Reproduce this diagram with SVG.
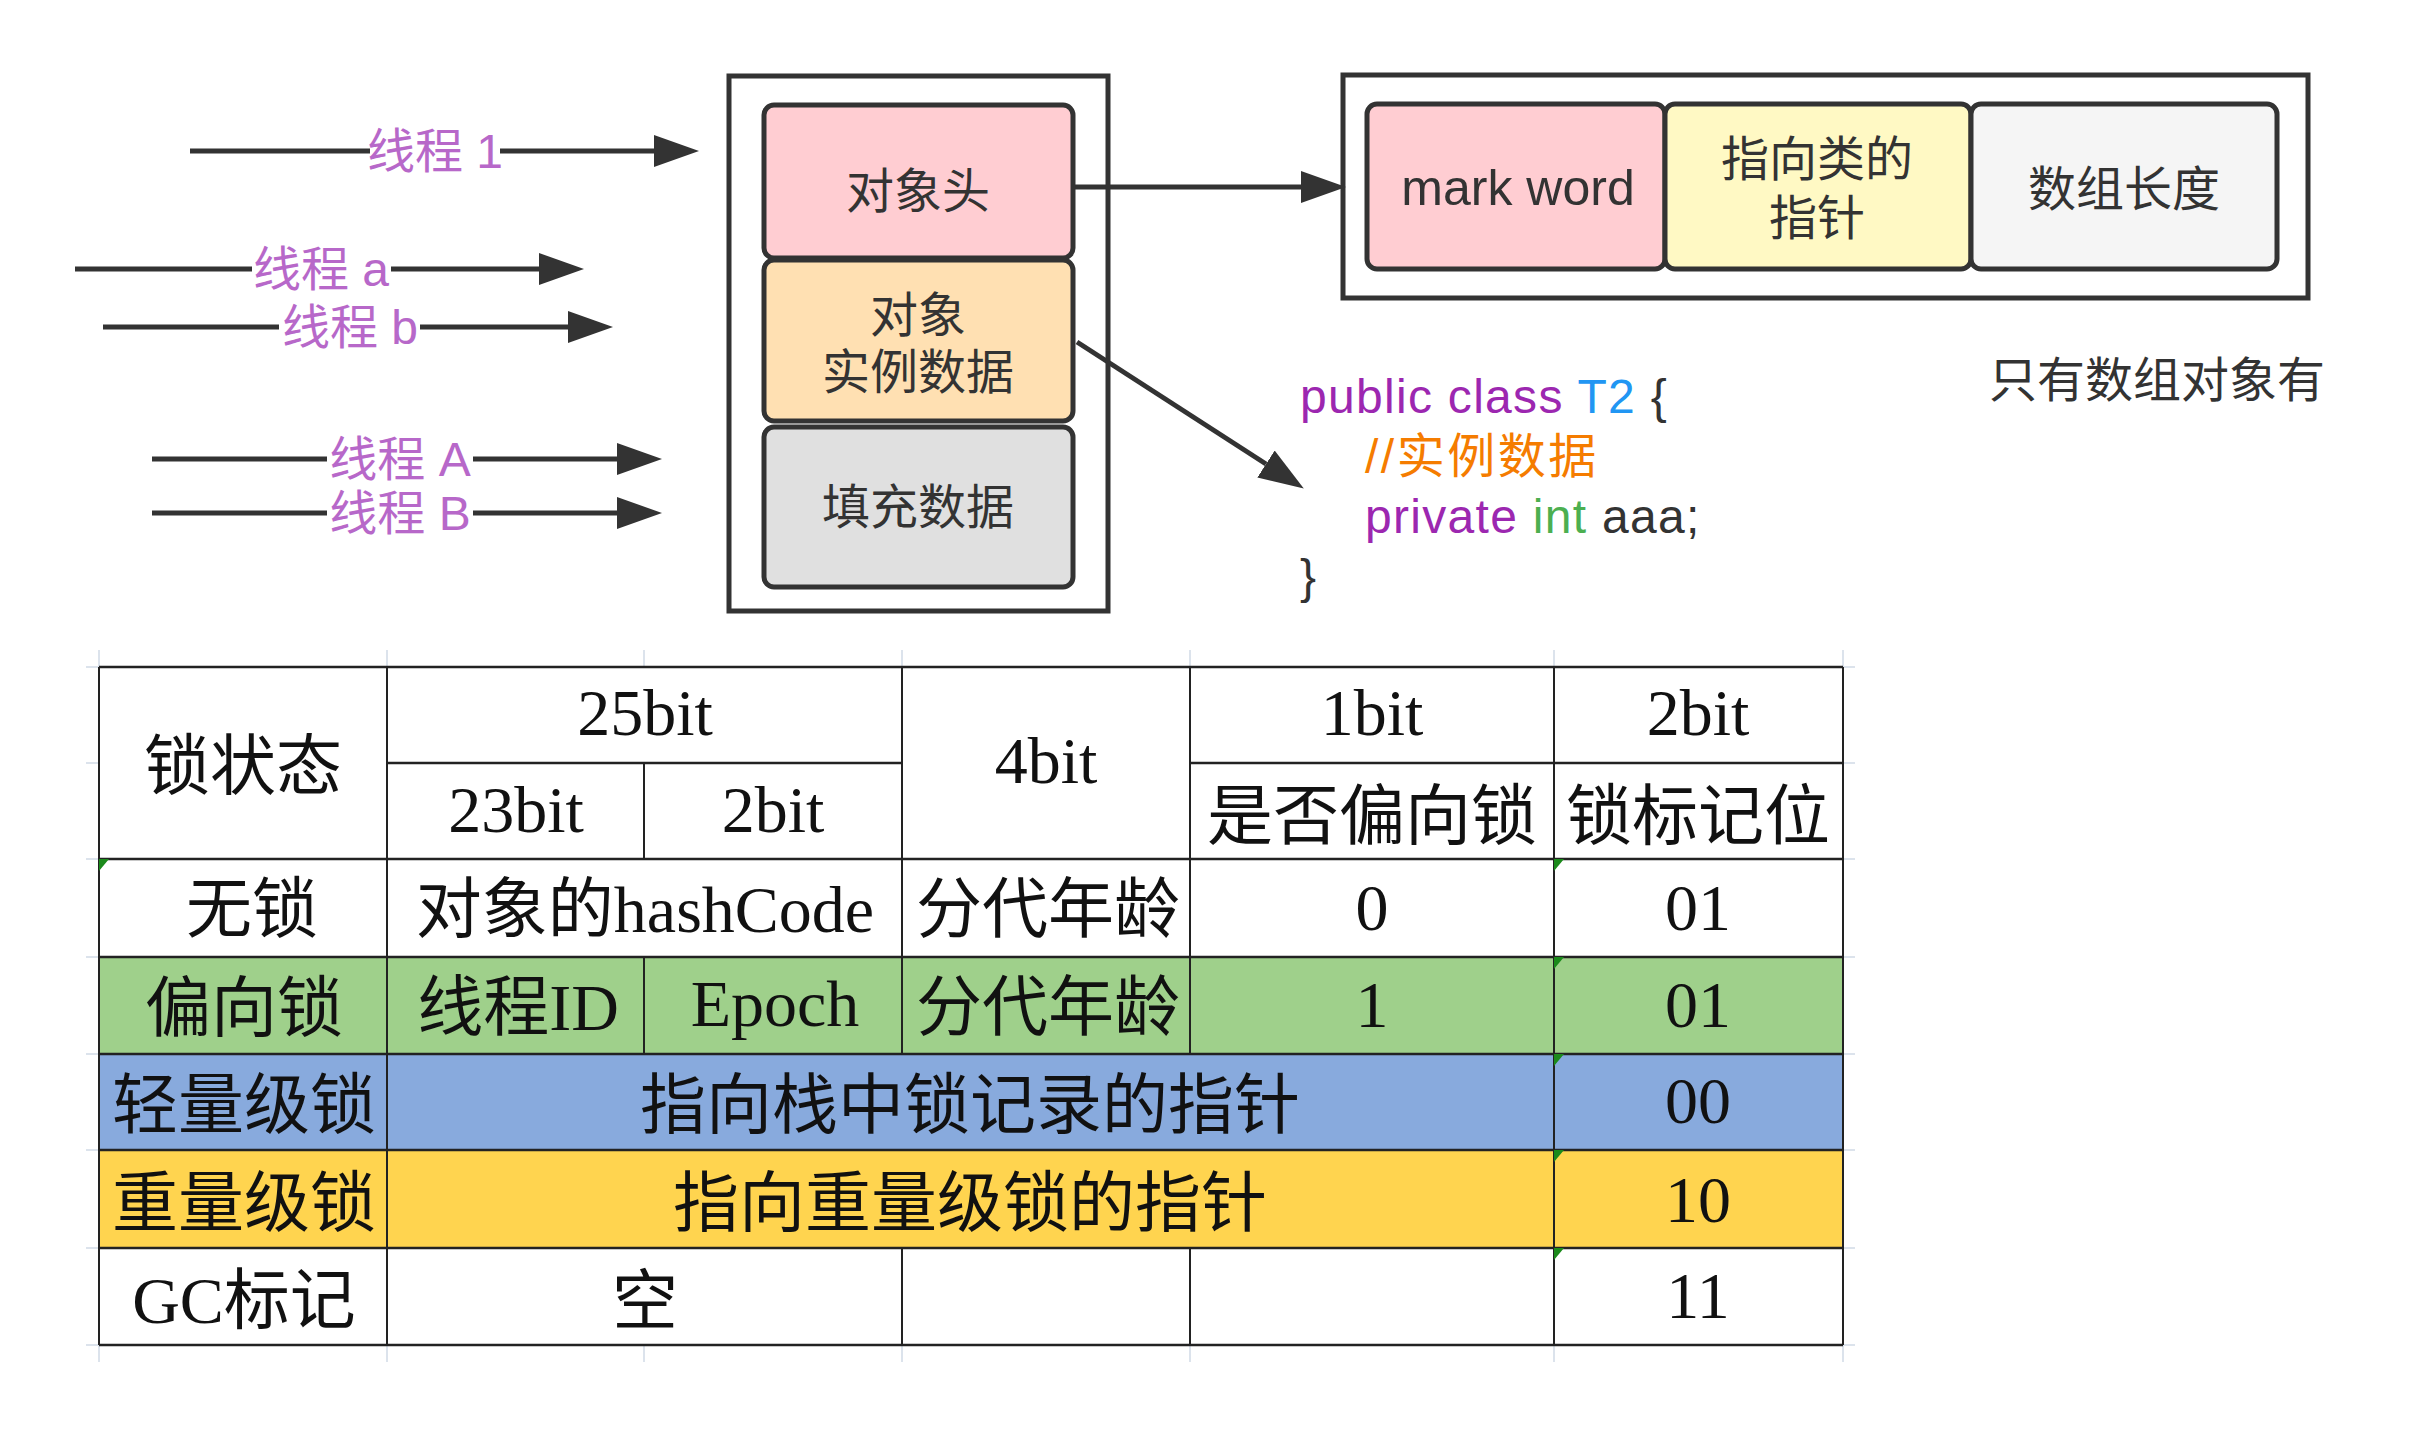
<svg xmlns="http://www.w3.org/2000/svg" width="2413" height="1434" viewBox="0 0 2413 1434">
<style>
.box{stroke:#333;stroke-width:5}
.lbl{font-family:"Liberation Sans","Noto Sans CJK SC",sans-serif;font-size:48px;fill:#333;text-anchor:middle}
.en{font-size:50px}
.thr{fill:#B768C9}
.code{font-family:"Liberation Sans","Noto Sans CJK SC",sans-serif;font-size:48px;fill:#333;letter-spacing:1.3px}
.kw{fill:#9C27B0}.ty{fill:#2196F3}.cm{fill:#F57C00}.it{fill:#4CAF50}
.conn{stroke:#333;stroke-width:5;fill:none}
.tbl{font-family:"Liberation Serif","Noto Sans CJK SC",serif;font-size:66px;fill:#111;text-anchor:middle}
.g{stroke:#222;stroke-width:2.5;fill:none}
.faint{stroke:#dce3ec;stroke-width:2;fill:none}
.tri{fill:#1b8a1b}
</style>
<defs>
<marker id="arr" markerUnits="userSpaceOnUse" markerWidth="45" markerHeight="32" refX="0" refY="16" orient="auto"><path d="M0,0 L45,16 L0,32 Z" fill="#333"/></marker>
</defs>
<rect width="2413" height="1434" fill="#fff"/>

<g id="connectors">
<path class="conn" d="M190,151 H370 M500,151 H654" marker-end="url(#arr)"/>
<path class="conn" d="M75,269 H252 M391,269 H539" marker-end="url(#arr)"/>
<path class="conn" d="M103,327 H279 M420,327 H568" marker-end="url(#arr)"/>
<path class="conn" d="M152,459 H327 M473,459 H617" marker-end="url(#arr)"/>
<path class="conn" d="M152,513 H327 M473,513 H617" marker-end="url(#arr)"/>
<path class="conn" d="M1073,187 H1301" marker-end="url(#arr)"/>
<path class="conn" d="M1077,342 L1266,464" marker-end="url(#arr)"/>
</g>

<g id="thread-labels">
<text class="lbl thr" x="435" y="168">线程 1</text>
<text class="lbl thr" x="321" y="286">线程 a</text>
<text class="lbl thr" x="350" y="344">线程 b</text>
<text class="lbl thr" x="400" y="476">线程 A</text>
<text class="lbl thr" x="400" y="530">线程 B</text>
</g>

<g id="object">
<rect class="box" x="729" y="76" width="379" height="535" fill="none"/>
</g>
<g id="header-node">
<rect class="box" x="764" y="105" width="309" height="153" rx="10" fill="#FFCDD2"/>
<text class="lbl" x="918" y="208">对象头</text>
</g>
<g id="instance-node">
<rect class="box" x="764" y="260" width="309" height="161" rx="10" fill="#FFE0B2"/>
<text class="lbl" x="918" y="332">对象</text>
<text class="lbl" x="918" y="389">实例数据</text>
</g>
<g id="padding-node">
<rect class="box" x="764" y="427" width="309" height="160" rx="10" fill="#E0E0E0"/>
<text class="lbl" x="918" y="524">填充数据</text>
</g>

<g id="header-detail">
<rect class="box" x="1343" y="75" width="965" height="223" fill="none"/>
</g>
<g id="markword-node">
<rect class="box" x="1367" y="104" width="298" height="165" rx="10" fill="#FFCDD2"/>
<text class="lbl en" x="1518" y="205">mark word</text>
</g>
<g id="classptr-node">
<rect class="box" x="1665" y="104" width="306" height="165" rx="10" fill="#FFF9C4"/>
<text class="lbl" x="1817" y="176">指向类的</text>
<text class="lbl" x="1817" y="235">指针</text>
</g>
<g id="arraylen-node">
<rect class="box" x="1971" y="104" width="306" height="165" rx="10" fill="#F5F5F5"/>
<text class="lbl" x="2124" y="206">数组长度</text>
</g>
<g id="note">
<text class="lbl" x="2157" y="397">只有数组对象有</text>
</g>

<g id="code">
<text class="code" x="1300" y="413"><tspan class="kw">public class </tspan><tspan class="ty">T2</tspan><tspan> {</tspan></text>
<text class="code cm" x="1365" y="473" style="letter-spacing:2.5px">//实例数据</text>
<text class="code" x="1365" y="533"><tspan class="kw">private </tspan><tspan class="it">int</tspan><tspan> aaa;</tspan></text>
<text class="code" x="1300" y="593">}</text>
</g>

<g id="lock-table">
<g class="faint">
<path d="M99,650 V667 M387,650 V667 M644,650 V667 M902,650 V667 M1190,650 V667 M1554,650 V667 M1843,650 V667"/>
<path d="M99,1345 V1362 M387,1345 V1362 M644,1345 V1362 M902,1345 V1362 M1190,1345 V1362 M1554,1345 V1362 M1843,1345 V1362"/>
<path d="M86,667 H99 M86,763 H99 M86,859 H99 M86,957 H99 M86,1054 H99 M86,1150 H99 M86,1248 H99 M86,1345 H99"/>
<path d="M1843,667 H1855 M1843,763 H1855 M1843,859 H1855 M1843,957 H1855 M1843,1054 H1855 M1843,1150 H1855 M1843,1248 H1855 M1843,1345 H1855"/>
</g>
<rect x="99" y="957" width="1744" height="97" fill="#9FD08B"/>
<rect x="99" y="1054" width="1744" height="96" fill="#88AADD"/>
<rect x="99" y="1150" width="1744" height="98" fill="#FFD44F"/>
<path class="g" d="M99,667 H1843 M99,859 H1843 M99,957 H1843 M99,1054 H1843 M99,1150 H1843 M99,1248 H1843 M99,1345 H1843 M387,763 H902 M1190,763 H1843"/>
<path class="g" style="stroke-width:2" d="M99,667 V1345 M1843,667 V1345 M387,667 V1345 M1554,667 V1345 M644,763 V859 M644,957 V1054 M902,667 V1054 M902,1248 V1345 M1190,667 V1054 M1190,1248 V1345"/>
<polygon class="tri" points="99,859 109,859 99,871"/>
<polygon class="tri" points="1554,859 1564,859 1554,871"/>
<polygon class="tri" points="1554,957 1564,957 1554,969"/>
<polygon class="tri" points="1554,1054 1564,1054 1554,1066"/>
<polygon class="tri" points="1554,1150 1564,1150 1554,1162"/>
<polygon class="tri" points="1554,1248 1564,1248 1554,1260"/>

<text class="tbl" x="243" y="789">锁状态</text>
<text class="tbl" x="645" y="735">25bit</text>
<text class="tbl" x="516" y="832">23bit</text>
<text class="tbl" x="773" y="832">2bit</text>
<text class="tbl" x="1046" y="783">4bit</text>
<text class="tbl" x="1372" y="735">1bit</text>
<text class="tbl" x="1698" y="735">2bit</text>
<text class="tbl" x="1372" y="839">是否偏向锁</text>
<text class="tbl" x="1698" y="839">锁标记位</text>

<text class="tbl" x="252" y="932">无锁</text>
<text class="tbl" x="645" y="932">对象的hashCode</text>
<text class="tbl" x="1048" y="932">分代年龄</text>
<text class="tbl" x="1372" y="930">0</text>
<text class="tbl" x="1698" y="930">01</text>

<text class="tbl" x="244" y="1031">偏向锁</text>
<text class="tbl" x="518" y="1030">线程ID</text>
<text class="tbl" x="775" y="1026">Epoch</text>
<text class="tbl" x="1048" y="1030">分代年龄</text>
<text class="tbl" x="1372" y="1027">1</text>
<text class="tbl" x="1698" y="1027">01</text>

<text class="tbl" x="244" y="1128">轻量级锁</text>
<text class="tbl" x="970" y="1128">指向栈中锁记录的指针</text>
<text class="tbl" x="1698" y="1123">00</text>

<text class="tbl" x="244" y="1226">重量级锁</text>
<text class="tbl" x="970" y="1226">指向重量级锁的指针</text>
<text class="tbl" x="1698" y="1222">10</text>

<text class="tbl" x="244" y="1323">GC标记</text>
<text class="tbl" x="645" y="1324">空</text>
<text class="tbl" x="1698" y="1318">11</text>
</g>
</svg>
